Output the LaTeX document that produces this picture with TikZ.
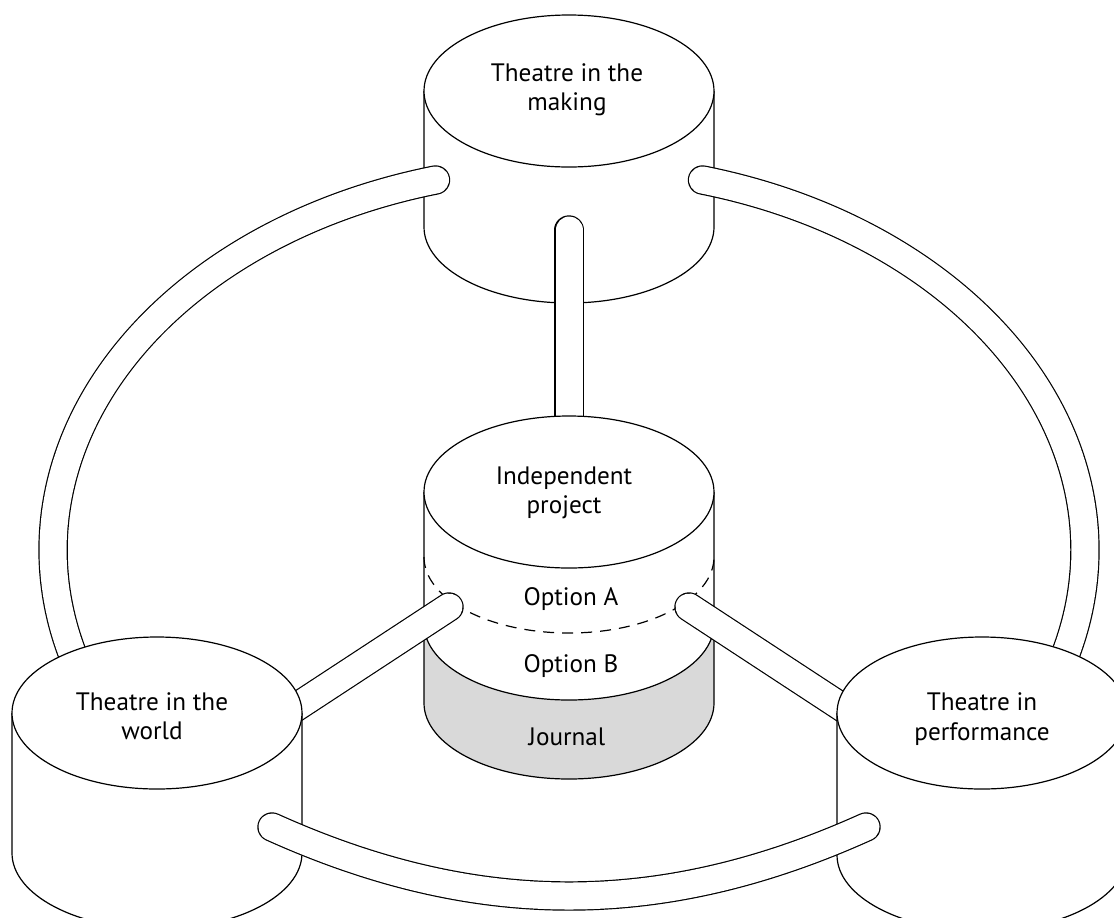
\documentclass[tikz,border=0pt]{standalone}
\usepackage{fontspec}
\setmainfont{PT Sans}
\begin{document}
\begin{tikzpicture}[x=0.5pt, y=0.5pt, line width=0.6pt,
    drumtext/.style={align=center, font=\fontsize{12.6}{14.6}\selectfont},
    tube/.style={double=white, double distance=13.5pt, line width=0.6pt, line cap=round},
    rim/.style={x radius=145, y radius=76}]
  \useasboundingbox (0,0) rectangle (1114,-917);

  % top drum
  \coordinate (mk) at (569,-91);
  \filldraw[fill=white] (424,-91) -- (424,-227) arc[start angle=180, end angle=360, rim] -- (714,-91);
  \filldraw[fill=white] (mk) ellipse[rim];
  \node[drumtext] (making) at (567,-90) {Theatre in the\\making};

  % ring: centre (569,550), radii 516 and 383 (pixels)
  \coordinate (ring) at (569,-550);
  \coordinate (mkL) at (435.5,-180);
  \coordinate (mkR) at (702.5,-180);
  \coordinate (mkB) at (569,-230);
  \draw[tube] (mkL) arc[start angle=105, end angle=200, x radius=516, y radius=383];
  \draw[tube] (mkR) arc[start angle=75, end angle=-20, x radius=516, y radius=383];

  % middle drum
  \coordinate (ip) at (569,-492);
  \draw[tube] (mkB) -- (ip);
  \fill[white] (424,-492) -- (424,-703) arc[start angle=180, end angle=360, rim] -- (714,-492) -- cycle;
  \fill[gray!30] (424,-624) arc[start angle=180, end angle=360, rim] -- (714,-703)
    arc[start angle=0, end angle=-180, rim] -- cycle;
  \draw (424,-492) -- (424,-703) arc[start angle=180, end angle=360, rim] -- (714,-492);
  \draw (424,-624) arc[start angle=180, end angle=360, rim];
  \draw[dash pattern=on 5.5pt off 4pt] (424,-557) arc[start angle=180, end angle=360, rim];
  \filldraw[fill=white] (ip) ellipse[rim];
  \node[drumtext] (project) at (564,-493) {Independent\\project};
  \node[drumtext, anchor=base] (optA) at (571,-605) {Option A};
  \node[drumtext, anchor=base] (optB) at (571,-672) {Option B};
  \node[drumtext, anchor=base] (journal) at (567,-745) {Journal};

  \coordinate (ipL) at (449,-607);
  \coordinate (ipR) at (689,-607);
  \coordinate (wdR) at (240,-744);
  \coordinate (pfL) at (898,-744);
  \draw[tube] (ipL) -- (wdR);
  \draw[tube] (ipR) -- (pfL);

  % side drums
  \coordinate (wd) at (157,-713);
  \filldraw[fill=white] (12,-713) -- (12,-853) arc[start angle=180, end angle=360, rim] -- (302,-713);
  \filldraw[fill=white] (wd) ellipse[rim];
  \node[drumtext] (world) at (152,-716) {Theatre in the\\world};

  \coordinate (pf) at (982,-713);
  \filldraw[fill=white] (837,-713) -- (837,-855) arc[start angle=180, end angle=360, rim] -- (1127,-713);
  \filldraw[fill=white] (pf) ellipse[rim];
  \node[drumtext] (perform) at (982,-719) {Theatre in\\performance};

  % bottom link
  \coordinate (wdB) at (272,-827);
  \coordinate (pfB) at (866,-827);
  \draw[tube] (wdB) .. controls (476,-919) and (662,-919) .. (pfB);
\end{tikzpicture}
\end{document}
